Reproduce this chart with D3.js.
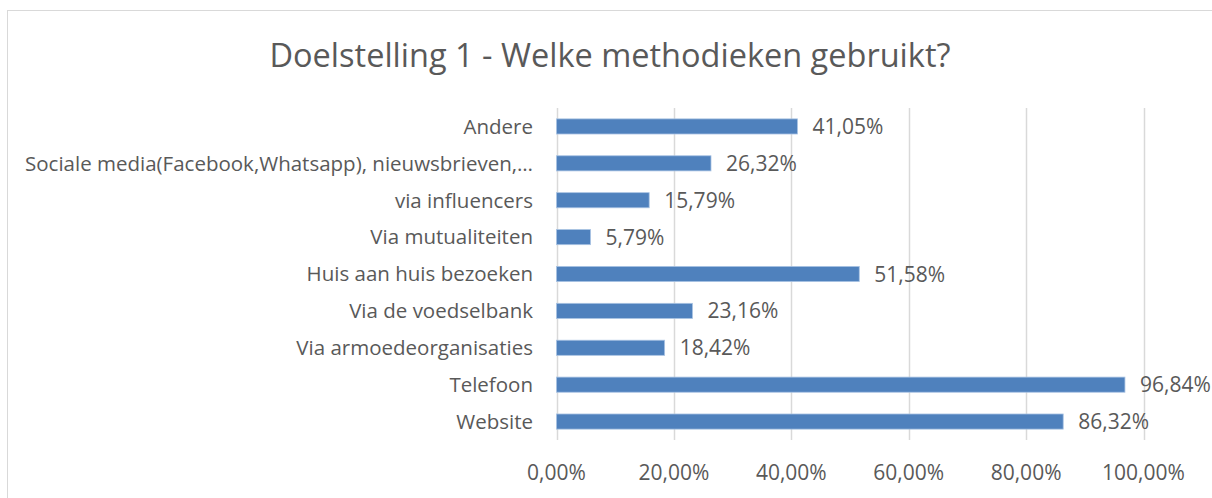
<!DOCTYPE html>
<html>
<head>
<meta charset="utf-8">
<script src="https://cdn.jsdelivr.net/npm/d3@7"></script>
<style>
  html, body { margin: 0; padding: 0; background: #fff; }
  svg { display: block; }
  text { font-family: "Open Sans", "Noto Sans", sans-serif; fill: #595959; }
</style>
</head>
<body>
<div id="chart"></div>
<script>
// categories, top to bottom
var categories = [
  "Andere",
  "Sociale media(Facebook,Whatsapp), nieuwsbrieven,…",
  "via influencers",
  "Via mutualiteiten",
  "Huis aan huis bezoeken",
  "Via de voedselbank",
  "Via armoedeorganisaties",
  "Telefoon",
  "Website"
];

// percentage per category
var values = [41.05, 26.32, 15.79, 5.79, 51.58, 23.16, 18.42, 96.84, 86.32];

var xTicks = [0, 20, 40, 60, 80, 100];

var title = "Doelstelling 1 - Welke methodieken gebruikt?";

(function () {
  var width = 1212, height = 498,
      plot = { left: 556.5, right: 1143.5, top: 108, bottom: 440 };

  var fmt = function (v) { return v.toFixed(2).replace(".", ",") + "%"; };

  var svg = d3.select("#chart").append("svg")
    .attr("width", width)
    .attr("height", height);

  // chart border
  svg.append("rect")
    .attr("x", 7.5).attr("y", 10.5)
    .attr("width", 1215).attr("height", 500)
    .attr("fill", "#fff")
    .attr("stroke", "#d9d9d9");

  svg.append("text")
    .attr("x", 610).attr("y", 67)
    .attr("text-anchor", "middle")
    .style("font-size", "32.5px")
    .text(title);

  var x = d3.scaleLinear().domain([0, 100]).range([plot.left, plot.right]);
  var y = d3.scaleBand().domain(categories)
    .range([plot.top, plot.bottom])
    .paddingInner(0.59).paddingOuter(0.295);

  // gridlines
  svg.append("g").selectAll("line")
    .data(xTicks)
    .enter().append("line")
      .attr("x1", function (d) { return Math.round(x(d)) + 0.5; })
      .attr("x2", function (d) { return Math.round(x(d)) + 0.5; })
      .attr("y1", plot.top).attr("y2", plot.bottom)
      .attr("stroke", "#d9d9d9")
      .attr("stroke-width", 1.5);

  // x tick labels
  svg.append("g").selectAll("text")
    .data(xTicks)
    .enter().append("text")
      .attr("x", function (d) { return x(d); })
      .attr("y", 480)
      .attr("text-anchor", "middle")
      .style("font-size", "21px")
      .text(function (d) { return fmt(d); });

  // bars
  svg.append("g").selectAll("rect")
    .data(values)
    .enter().append("rect")
      .attr("x", x(0))
      .attr("y", function (d, i) { return y(categories[i]); })
      .attr("width", function (d) { return x(d) - x(0); })
      .attr("height", y.bandwidth())
      .attr("fill", "#4f81bd")
      .attr("stroke", "#a9c3e3")
      .attr("stroke-width", 0.8);

  // value labels
  svg.append("g").selectAll("text")
    .data(values)
    .enter().append("text")
      .attr("x", function (d) { return x(d) + 15; })
      .attr("y", function (d, i) { return y(categories[i]) + y.bandwidth() / 2; })
      .attr("dy", "0.36em")
      .style("font-size", "21px")
      .text(function (d) { return fmt(d); });

  // category labels
  svg.append("g").selectAll("text")
    .data(categories)
    .enter().append("text")
      .attr("x", 533)
      .attr("y", function (d) { return y(d) + y.bandwidth() / 2; })
      .attr("dy", "0.36em")
      .attr("text-anchor", "end")
      .style("font-size", "20.5px")
      .text(function (d) { return d; });
})();
</script>
</body>
</html>
